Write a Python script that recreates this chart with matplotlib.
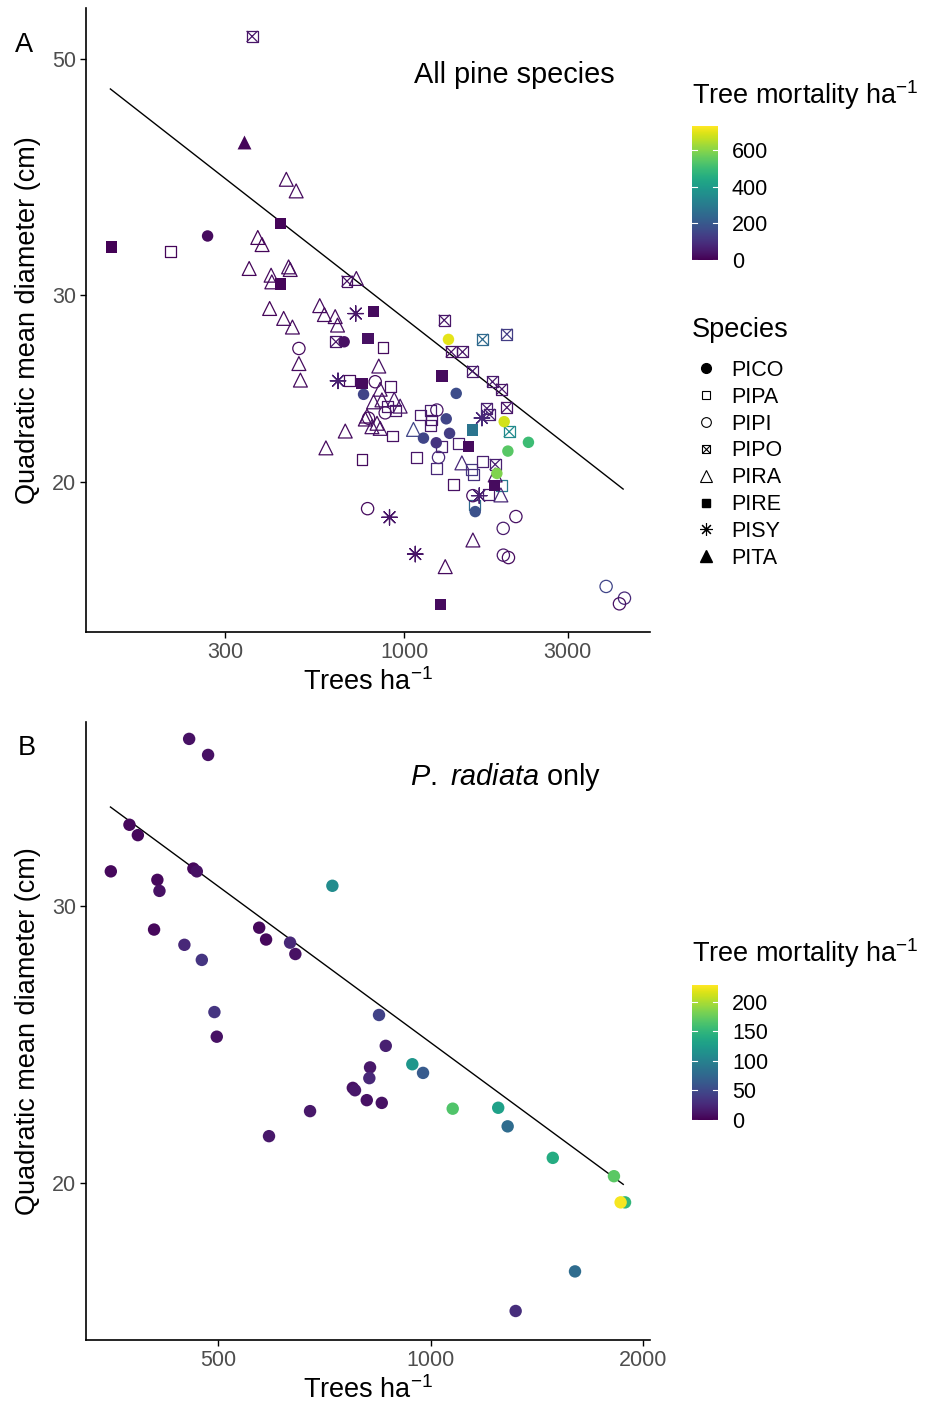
import numpy as np
import matplotlib
matplotlib.use('Agg')
import matplotlib.pyplot as plt
from matplotlib.colors import Normalize
from matplotlib.lines import Line2D
from matplotlib.cm import ScalarMappable
from matplotlib.legend_handler import HandlerTuple
import matplotlib.ticker as mticker

plt.rcParams['font.family'] = ['Liberation Sans', 'DejaVu Sans']
plt.rcParams['mathtext.fontset'] = 'custom'
plt.rcParams['mathtext.rm'] = 'Liberation Sans'
plt.rcParams['mathtext.it'] = 'Liberation Sans:italic'

# ---------------- Panel A data (Trees/ha, QMD cm, mortality/ha) ----------------
pico_x = [267, 668, 761, 1418, 1326, 1356, 1138, 1240, 1346, 1957, 2303, 2006, 1863, 1611]
pico_y = [34.1, 27.11, 24.19, 24.24, 22.94, 22.23, 22.0, 21.78, 27.25, 22.8, 21.8, 21.39, 20.38, 18.76]
pico_m = [20, 30, 150, 170, 150, 130, 150, 110, 700, 680, 500, 540, 590, 180]

pipa_x = [208, 867, 691, 910, 891, 942, 927, 753, 1084, 1113, 1191, 1204, 1191, 1288, 1440, 1245,
          1392, 1576, 1592, 1692, 1927, 1603, 1761]
pipa_y = [32.97, 26.76, 24.92, 24.59, 23.55, 23.38, 22.10, 21.02, 21.08, 23.13, 23.38, 22.88, 22.59,
          21.59, 21.75, 20.61, 19.9, 20.56, 20.34, 20.9, 19.87, 19.03, 19.45]
pipa_m = [10, 20, 20, 30, 40, 40, 30, 20, 40, 50, 60, 40, 50, 60, 60, 80, 30, 120, 100, 60, 300, 250, 50]

pipi_x = [493, 823, 880, 787, 1245, 1259, 1586, 782, 2117, 1944, 1946, 2014, 3880, 4389, 4244]
pipi_y = [26.72, 24.86, 23.24, 22.97, 23.38, 21.1, 19.42, 18.88, 18.56, 18.09, 17.07, 16.98, 15.95, 15.55, 15.36]
pipi_m = [20, 20, 30, 20, 40, 80, 30, 20, 30, 50, 40, 20, 150, 80, 30]

pipo_x = [360, 681, 632, 1308, 1692, 1993, 1371, 1479, 1582, 1809, 1927, 1742, 1773, 1993, 2024, 1842]
pipo_y = [52.56, 30.92, 27.11, 28.41, 27.25, 27.56, 26.52, 26.52, 25.44, 24.86, 24.47, 23.46, 23.16,
          23.51, 22.31, 20.78]
pipo_m = [40, 30, 40, 40, 250, 130, 30, 40, 50, 50, 40, 60, 60, 40, 350, 60]

pira_x = [453, 484, 374, 385, 353, 409, 411, 460, 465, 725, 405, 445, 472, 567, 585, 629, 639, 493, 498,
          843, 851, 814, 861, 935, 973, 779, 770, 833, 805, 851, 673, 591, 1064, 1473, 1842, 1914, 1586, 1317]
pira_y = [38.56, 37.6, 33.99, 33.47, 31.78, 31.32, 30.87, 31.89, 31.71, 31.1, 29.14, 28.52, 27.99, 29.32,
          28.76, 28.63, 28.11, 25.86, 24.95, 25.72, 24.46, 23.8, 23.9, 23.93, 23.58, 23.08, 22.93, 22.72,
          22.55, 22.47, 22.34, 21.54, 22.42, 20.85, 20.31, 19.45, 17.64, 16.65]
pira_m = [20, 20, 10, 10, 10, 20, 20, 20, 20, 30, 10, 20, 20, 20, 20, 20, 20, 20, 20, 30, 30, 30, 30, 40,
          40, 20, 20, 20, 30, 30, 20, 20, 150, 80, 40, 80, 30, 20]

pire_x = [140, 435, 435, 815, 783, 753, 1288, 1582, 1540, 1833, 1274]
pire_y = [33.3, 35.03, 30.72, 28.94, 27.29, 24.77, 25.17, 22.39, 21.61, 19.86, 15.33]
pire_m = [5, 10, 10, 20, 30, 20, 20, 280, 20, 20, 20]

pisy_x = [722, 641, 1685, 1655, 906, 1077]
pisy_y = [28.82, 24.91, 22.98, 19.42, 18.53, 17.11]
pisy_m = [40, 60, 80, 60, 40, 40]

pita_x = [340]
pita_y = [41.8]
pita_m = [10]

fitA_x = [139, 4350]
fitA_y = [46.9, 19.7]

# ---------------- Panel B data (P. radiata only) ----------------
rad_x = [455, 484, 374.5, 384.9, 352.4, 461.3, 466.5, 410.2, 413, 726, 405.8, 448, 474.2, 571.8, 584.8,
         632.4, 643.4, 494.1, 497.9, 845.3, 864.1, 820.9, 819, 776, 781.6, 812.2, 852.9, 942.3, 975.8,
         1075, 1247, 1286, 1490, 1819, 1886, 1859, 1602, 1320, 675, 590.4]
rad_y = [38.34, 37.45, 33.81, 33.30, 31.58, 31.71, 31.58, 31.19, 30.69, 30.92, 29.0, 28.36, 27.74, 29.08,
         28.58, 28.45, 27.98, 25.70, 24.79, 25.59, 24.46, 23.70, 23.33, 23.0, 22.92, 22.59, 22.50, 23.81,
         23.51, 22.31, 22.34, 21.74, 20.76, 20.21, 19.45, 19.45, 17.58, 16.59, 22.23, 21.43]
rad_m = [10, 10, 5, 5, 5, 5, 10, 5, 10, 110, 5, 25, 35, 5, 5, 25, 10, 35, 10, 45, 20, 15, 25, 10, 15, 10,
         10, 120, 65, 165, 130, 80, 140, 170, 150, 225, 80, 30, 15, 15]

fitB_x = [352, 1875]
fitB_y = [34.7, 19.97]

species_labels = ['PICO', 'PIPA', 'PIPI', 'PIPO', 'PIRA', 'PIRE', 'PISY', 'PITA']
cbarA_ticks = [0, 200, 400, 600]
cbarB_ticks = [0, 50, 100, 150, 200]

# ---------------- figure ----------------
W, H = 927, 1416
fig = plt.figure(figsize=(W / 100, H / 100), dpi=100)
cmap = plt.get_cmap('viridis')
normA = Normalize(0, 730)
normB = Normalize(0, 228)

TXT = 15.5
TTL = 19.5
ANN = 20.8
GREY = '#4D4D4D'


def style_axes(ax):
    for s in ['top', 'right']:
        ax.spines[s].set_visible(False)
    for s in ['left', 'bottom']:
        ax.spines[s].set_linewidth(1.2)
        ax.spines[s].set_color('black')
    ax.tick_params(axis='both', which='major', length=4, width=1.0, color='black',
                   labelsize=TXT, labelcolor=GREY, pad=3)
    ax.xaxis.set_minor_locator(mticker.NullLocator())
    ax.yaxis.set_minor_locator(mticker.NullLocator())
    ax.set_xlabel('Trees ha$^{-1}$', fontsize=TTL, labelpad=4)
    ax.set_ylabel('Quadratic mean diameter (cm)', fontsize=TTL, labelpad=8)


def cols(m, norm):
    return cmap(norm(np.asarray(m, float)))


# ---- Panel A ----
axA = fig.add_axes([86 / W, 1 - 632 / H, 564 / W, 624 / H])
axA.set_xscale('log')
axA.set_yscale('log')
axA.set_xlim(118, 5210)
axA.set_ylim(14.45, 55.9)

axA.plot(fitA_x, fitA_y, color='black', lw=1.0, zorder=1)

lw_open = 0.9
axA.scatter(pipa_x, pipa_y, marker='s', s=62, facecolors='none', edgecolors=cols(pipa_m, normA), linewidths=lw_open, zorder=2)
axA.scatter(pipi_x, pipi_y, marker='o', s=78, facecolors='none', edgecolors=cols(pipi_m, normA), linewidths=lw_open, zorder=2)
axA.scatter(pipo_x, pipo_y, marker='s', s=62, facecolors='none', edgecolors=cols(pipo_m, normA), linewidths=lw_open, zorder=2)
axA.scatter(pipo_x, pipo_y, marker='x', s=62, c=cols(pipo_m, normA), linewidths=lw_open, zorder=2)
axA.scatter(pira_x, pira_y, marker='^', s=100, facecolors='none', edgecolors=cols(pira_m, normA), linewidths=lw_open, zorder=2)
axA.scatter(pisy_x, pisy_y, marker=(8, 2, 0), s=125, c=cols(pisy_m, normA), linewidths=lw_open, zorder=2)
axA.scatter(pico_x, pico_y, marker='o', s=68, c=cols(pico_m, normA), linewidths=0, zorder=3)
axA.scatter(pire_x, pire_y, marker='s', s=68, c=cols(pire_m, normA), linewidths=0, zorder=3)
axA.scatter(pita_x, pita_y, marker='^', s=100, c=cols(pita_m, normA), linewidths=0, zorder=3)

axA.set_xticks([300, 1000, 3000])
axA.set_xticklabels(['300', '1000', '3000'])
axA.set_yticks([20, 30, 50])
axA.set_yticklabels(['20', '30', '50'])
style_axes(axA)
axA.text(0.76, 0.893, 'All pine species', transform=axA.transAxes, ha='center', va='center', fontsize=ANN)

# ---- Panel B ----
axB = fig.add_axes([86 / W, 1 - 1340 / H, 564 / W, 618 / H])
axB.set_xscale('log')
axB.set_yscale('log')
axB.set_xlim(325, 2046)
axB.set_ylim(15.9, 39.3)
axB.plot(fitB_x, fitB_y, color='black', lw=1.0, zorder=1)
axB.scatter(rad_x, rad_y, marker='o', s=80, c=cols(rad_m, normB), linewidths=0, zorder=3)
axB.set_xticks([500, 1000, 2000])
axB.set_xticklabels(['500', '1000', '2000'])
axB.set_yticks([20, 30])
axB.set_yticklabels(['20', '30'])
style_axes(axB)
axB.text(0.745, 0.911, r'$\mathit{P.}$ $\mathit{radiata}$ only', transform=axB.transAxes,
         ha='center', va='center', fontsize=ANN)

# panel letters
fig.text(24 / W, 1 - 45 / H, 'A', fontsize=TTL, ha='center', va='center')
fig.text(27 / W, 1 - 748 / H, 'B', fontsize=TTL, ha='center', va='center')


# ---- colorbars ----
def add_cbar(top_px, bot_px, norm, ticks, title_y):
    cax = fig.add_axes([692 / W, 1 - bot_px / H, 26 / W, (bot_px - top_px) / H])
    cb = fig.colorbar(ScalarMappable(norm=norm, cmap=cmap), cax=cax)
    cb.outline.set_visible(False)
    cb.set_ticks(ticks)
    cb.set_ticklabels([str(t) for t in ticks])
    cax.tick_params(length=0, labelsize=TXT, labelcolor='black', pad=10)
    for t in ticks:
        cax.plot([0, 0.2], [t, t], color='white', lw=0.8, transform=cax.get_yaxis_transform())
        cax.plot([0.8, 1.0], [t, t], color='white', lw=0.8, transform=cax.get_yaxis_transform())
    fig.text(692 / W, 1 - title_y / H, 'Tree mortality ha$^{-1}$', fontsize=TTL, ha='left', va='center')

add_cbar(126, 260, normA, cbarA_ticks, 95)
add_cbar(985, 1120, normB, cbarB_ticks, 953)

# ---- species legend ----
k = 'black'
ms = 7
handles = [
    Line2D([], [], ls='none', marker='o', color=k, markersize=ms),
    Line2D([], [], ls='none', marker='s', color=k, markerfacecolor='none', markersize=ms - 1, mew=0.8),
    Line2D([], [], ls='none', marker='o', color=k, markerfacecolor='none', markersize=ms, mew=0.8),
    (Line2D([], [], ls='none', marker='s', color=k, markerfacecolor='none', markersize=ms - 1, mew=0.8),
     Line2D([], [], ls='none', marker='x', color=k, markersize=ms - 1, mew=0.8)),
    Line2D([], [], ls='none', marker='^', color=k, markerfacecolor='none', markersize=ms + 1, mew=0.8),
    Line2D([], [], ls='none', marker='s', color=k, markersize=ms - 1),
    Line2D([], [], ls='none', marker=(8, 2, 0), color=k, markersize=ms + 2, mew=0.8),
    Line2D([], [], ls='none', marker='^', color=k, markersize=ms + 1),
]
fig.text(692 / W, 1 - 330 / H, 'Species', fontsize=TTL, ha='left', va='center')
leg = fig.legend(handles, species_labels, loc='upper left', bbox_to_anchor=(695 / W, 1 - 360 / H),
                 frameon=False, fontsize=TXT,
                 labelspacing=0.27, handletextpad=0.7, handlelength=1.0, borderaxespad=0, borderpad=0,
                 handler_map={tuple: HandlerTuple(ndivide=1)})

fig.savefig('out.png', dpi=100)
